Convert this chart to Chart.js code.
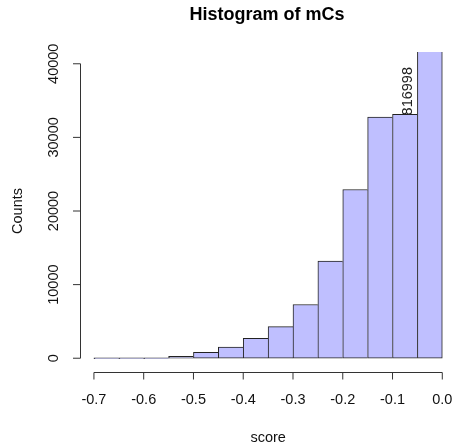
<!DOCTYPE html>
<html>
<head>
<meta charset="utf-8">
<script src="https://cdn.jsdelivr.net/npm/chart.js@4"></script>
<style>
  html, body { margin: 0; padding: 0; background: #fff; overflow: hidden; }
  canvas { display: block; }
</style>
</head>
<body>
<canvas id="histChart" width="452" height="448"></canvas>
<script>
// histogram bins (centres, width 0.05) and counts
const binCenters = [-0.675, -0.625, -0.575, -0.525, -0.475, -0.425, -0.375, -0.325, -0.275, -0.225, -0.175, -0.125, -0.075, -0.025];
const counts = [0, 0, 0, 270, 810, 1530, 2710, 4290, 7300, 13190, 22920, 32760, 33120, 816998];

// axis ticks
const xTicks = [-0.7, -0.6, -0.5, -0.4, -0.3, -0.2, -0.1, 0.0];
const xTickLabels = ["-0.7", "-0.6", "-0.5", "-0.4", "-0.3", "-0.2", "-0.1", "0.0"];
const yTicks = [0, 10000, 20000, 30000, 40000];

// text
const mainTitle = "Histogram of mCs";
const xTitle = "score";
const yTitle = "Counts";
const noteText = "816998";
const noteX = -0.068;
const noteY = 33120;

const FONT = "'Liberation Sans', Arial, sans-serif";

// R style axes, titles and the note, drawn from the chart scales
const rAxes = {
  id: 'rAxes',
  afterDraw(chart) {
    const ctx = chart.ctx;
    const xs = chart.scales.x;
    const ys = chart.scales.y;
    const area = chart.chartArea;
    ctx.save();
    ctx.strokeStyle = '#333';
    ctx.fillStyle = '#111';
    ctx.lineWidth = 1;

    // x axis
    const axY = 372.5;
    const x0 = xs.getPixelForValue(xTicks[0]);
    const x1 = xs.getPixelForValue(xTicks[xTicks.length - 1]);
    ctx.beginPath();
    ctx.moveTo(x0, axY);
    ctx.lineTo(x1, axY);
    xTicks.forEach(t => {
      const px = xs.getPixelForValue(t);
      ctx.moveTo(px, axY);
      ctx.lineTo(px, axY + 7);
    });
    ctx.stroke();
    ctx.font = '14.5px ' + FONT;
    ctx.textAlign = 'center';
    ctx.textBaseline = 'middle';
    xTicks.forEach((t, i) => {
      ctx.fillText(xTickLabels[i], xs.getPixelForValue(t), 400);
    });

    // y axis
    const axX = area.left + 0.5;
    const y0 = ys.getPixelForValue(yTicks[0]);
    const y1 = ys.getPixelForValue(yTicks[yTicks.length - 1]);
    ctx.beginPath();
    ctx.moveTo(axX, y0);
    ctx.lineTo(axX, y1);
    yTicks.forEach(t => {
      const py = ys.getPixelForValue(t);
      ctx.moveTo(axX, py);
      ctx.lineTo(axX - 7.5, py);
    });
    ctx.stroke();
    yTicks.forEach(t => {
      ctx.save();
      ctx.translate(54, ys.getPixelForValue(t));
      ctx.rotate(-Math.PI / 2);
      ctx.fillText(String(t), 0, 0);
      ctx.restore();
    });

    // axis titles
    const midX = xs.getPixelForValue(-0.35);
    ctx.fillText(xTitle, midX, 438);
    ctx.save();
    ctx.translate(18, (area.top + area.bottom) / 2);
    ctx.rotate(-Math.PI / 2);
    ctx.fillText(yTitle, 0, 0);
    ctx.restore();

    // main title
    ctx.fillStyle = '#000';
    ctx.font = 'bold 18px ' + FONT;
    ctx.fillText(mainTitle, midX - 1, 15);

    // note over the clipped bar
    ctx.fillStyle = '#222';
    ctx.font = '14.5px ' + FONT;
    ctx.textAlign = 'left';
    ctx.save();
    ctx.translate(xs.getPixelForValue(noteX), ys.getPixelForValue(noteY) + 1);
    ctx.rotate(-Math.PI / 2);
    ctx.fillText(noteText, 0, 0);
    ctx.restore();

    ctx.restore();
  }
};

let histChart = new Chart(document.getElementById('histChart'), {
  type: 'bar',
  data: {
    datasets: [{
      label: 'mCs',
      data: binCenters.map((c, i) => ({ x: c, y: counts[i] })),
      backgroundColor: '#bfbfff',
      borderColor: '#222',
      borderSkipped: false,
      borderWidth: (c) => ({ left: 1, top: 1, bottom: 1, right: c.dataIndex === binCenters.length - 1 ? 1 : 0 }),
      barPercentage: 1,
      categoryPercentage: 1,
      minBarLength: 1
    }]
  },
  options: {
    responsive: false,
    animation: false,
    layout: { padding: { left: 80, right: 0, top: 52, bottom: 78 } },
    plugins: {
      legend: { display: false },
      tooltip: { enabled: false },
      title: { display: false }
    },
    scales: {
      x: { type: 'linear', offset: false, min: -0.728, max: 0.0195, display: false },
      y: { min: -1600, max: 41600, display: false }
    }
  },
  plugins: [rAxes]
});
</script>
</body>
</html>
